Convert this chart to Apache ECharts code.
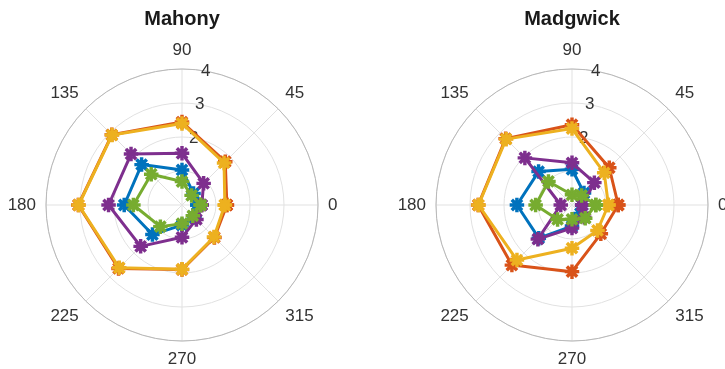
<!DOCTYPE html>
<html>
<head>
<meta charset="utf-8">
<script src="https://cdn.jsdelivr.net/npm/echarts@6/dist/echarts.min.js"></script>
<style>
  html, body { margin: 0; padding: 0; background: #fff; }
  #chart { width: 725px; height: 369px; }
</style>
</head>
<body>
<div id="chart"></div>
<script>
// Direction of each measurement (degrees)
const angles = [0, 45, 90, 135, 180, 225, 270, 315];
const radialTicks = [0, 1, 2, 3, 4];
const titles = ['Mahony', 'Madgwick'];

// Mahony filter errors per direction
const mahonyBlue   = [0.45, 0.48, 1.03, 1.68, 1.70, 1.23, 0.59, 0.52];
const mahonyOrange = [1.32, 1.80, 2.44, 2.92, 3.05, 2.64, 1.90, 1.35];
const mahonyYellow = [1.26, 1.75, 2.40, 2.91, 3.04, 2.61, 1.89, 1.33];
const mahonyPurple = [0.58, 0.90, 1.52, 2.12, 2.16, 1.72, 0.95, 0.60];
const mahonyGreen  = [0.55, 0.40, 0.69, 1.28, 1.43, 0.90, 0.55, 0.45];

// Madgwick filter errors per direction
const madgwickBlue   = [0.30, 0.50, 1.05, 1.39, 1.62, 1.38, 0.62, 0.35];
const madgwickOrange = [1.36, 1.55, 2.36, 2.76, 2.76, 2.50, 1.96, 1.20];
const madgwickYellow = [1.07, 1.34, 2.25, 2.74, 2.75, 2.29, 1.27, 1.06];
const madgwickPurple = [0.30, 0.93, 1.24, 1.96, 0.33, 1.42, 0.68, 0.51];
const madgwickGreen  = [0.70, 0.40, 0.30, 0.98, 1.07, 0.60, 0.42, 0.55];

const colors = ['#0072BD', '#D95319', '#EDB120', '#7E2F8E', '#77AC30'];
const mahonySets = [mahonyBlue, mahonyOrange, mahonyYellow, mahonyPurple, mahonyGreen];
const madgwickSets = [madgwickBlue, madgwickOrange, madgwickYellow, madgwickPurple, madgwickGreen];

// Asterisk marker built from four bars (same winding so overlaps stay filled)
const asterisk = 'path://M0 8.5H20V11.5H0Z M8.5 0H11.5V20H8.5Z M1.8 4L4 1.8L18.2 16L16 18.2Z M16 1.8L18.2 4L4 18.2L1.8 16Z';

const FONT = 'Liberation Sans, Arial, Helvetica, sans-serif';
const centers = [[182, 205], [572, 205]];
const R = 136;

const polar = [], angleAxis = [], radiusAxis = [], series = [];

centers.forEach((c, k) => {
  const main = polar.length;
  // data plane
  polar.push({ center: c, radius: R });
  angleAxis.push({
    polarIndex: main, type: 'value', min: 0, max: 360, interval: 45,
    startAngle: 0, clockwise: false,
    axisLine: { show: true, lineStyle: { color: '#b8b8b8', width: 1 } },
    axisTick: { show: false },
    splitLine: { show: true, lineStyle: { color: '#e1e1e1', width: 1 } },
    axisLabel: {
      margin: 10, fontSize: 17, color: '#333333', fontFamily: FONT,
      formatter: v => (v === 360 ? '' : String(v))
    }
  });
  radiusAxis.push({
    polarIndex: main, type: 'value', min: radialTicks[0], max: radialTicks[radialTicks.length - 1], interval: 1,
    axisLine: { show: false }, axisTick: { show: false }, axisLabel: { show: false },
    splitLine: { show: true, lineStyle: { color: '#e1e1e1', width: 1 } }
  });
  // overlay plane carrying the radial tick labels along the 80° direction
  const lab = polar.length;
  polar.push({ center: c, radius: R });
  angleAxis.push({
    polarIndex: lab, type: 'value', min: 0, max: 360, startAngle: 80,
    show: false
  });
  radiusAxis.push({
    polarIndex: lab, type: 'value', min: radialTicks[0], max: radialTicks[radialTicks.length - 1], interval: 1,
    axisLine: { show: false }, axisTick: { show: false }, splitLine: { show: false },
    axisLabel: {
      margin: 0, fontSize: 17, color: '#333333', fontFamily: FONT,
      align: 'center', verticalAlign: 'middle',
      formatter: v => (v < 2 ? '' : String(v))
    }
  });

  const sets = k === 0 ? mahonySets : madgwickSets;
  sets.forEach((vals, i) => {
    const pts = angles.map((a, j) => [vals[j], a]);
    pts.push([vals[0], 360]);
    series.push({
      type: 'line', coordinateSystem: 'polar', polarIndex: main,
      data: pts, symbol: asterisk, symbolSize: 13, showSymbol: true,
      lineStyle: { color: colors[i], width: 3 },
      itemStyle: { color: colors[i], borderColor: colors[i], borderWidth: 1.5 },
      z: 3 + i, animation: false, silent: true
    });
  });
});

const chart = echarts.init(document.getElementById('chart'), null, { renderer: 'canvas' });
chart.setOption({
  animation: false,
  title: titles.map((t, k) => ({
    text: t, left: centers[k][0], top: 9, textAlign: 'center', padding: 0,
    textStyle: { fontSize: 20, fontWeight: 'bold', color: '#1a1a1a', fontFamily: FONT }
  })),
  polar, angleAxis, radiusAxis, series
});
</script>
</body>
</html>
